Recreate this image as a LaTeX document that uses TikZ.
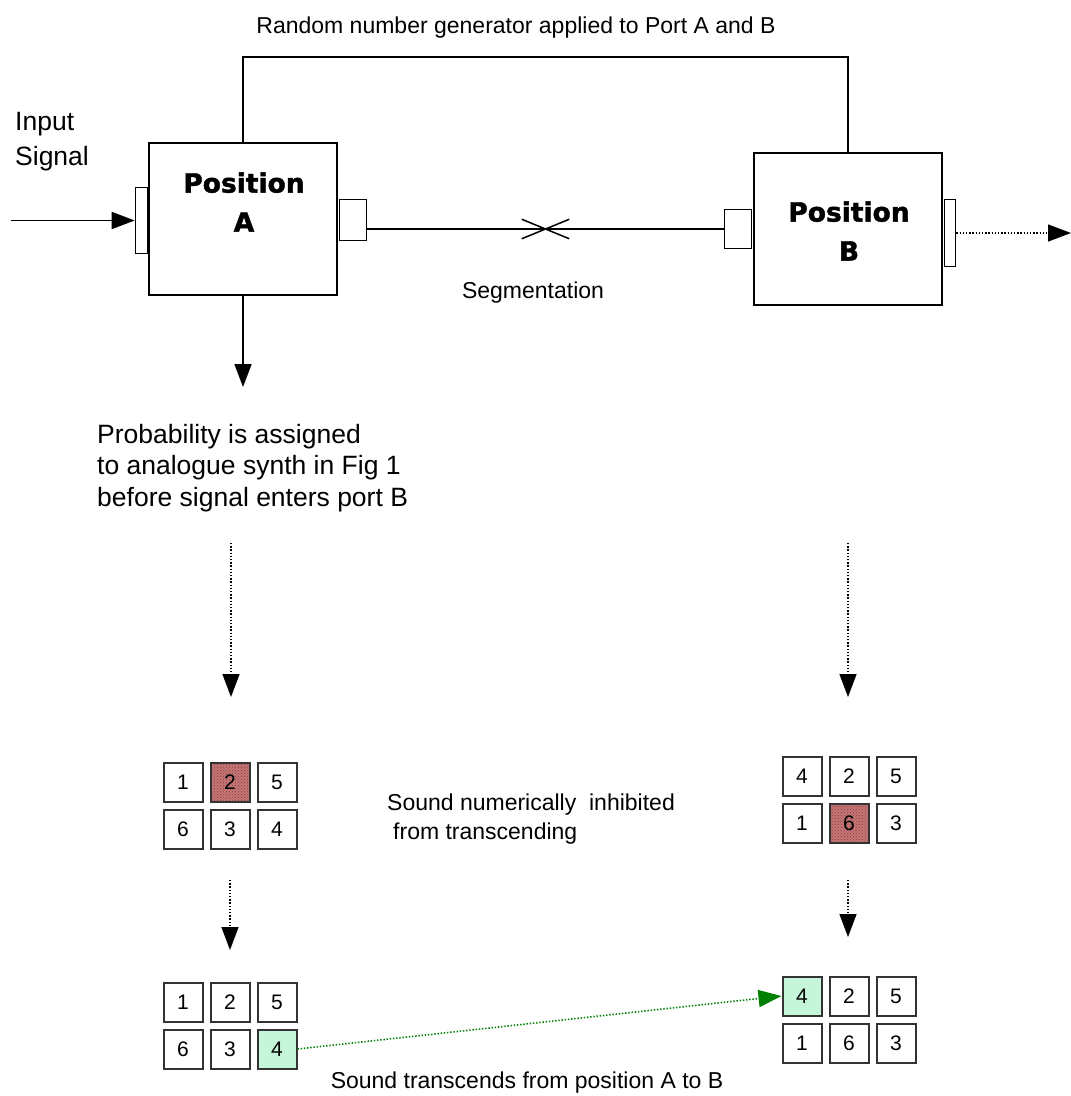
\documentclass[tikz,border=0pt]{standalone}
\usepackage{fontspec}
\setmainfont{Liberation Sans}
\newfontfamily\posfont[FakeBold=1.6]{DejaVu Sans Bold}
\usetikzlibrary{positioning,calc,arrows.meta,shapes.misc,patterns}

\definecolor{hitred}{RGB}{196,118,118}
\definecolor{hitdot}{RGB}{140,60,60}
\definecolor{gofill}{RGB}{198,246,218}
\definecolor{goline}{RGB}{0,128,0}

\begin{document}
\begin{tikzpicture}[x=1pt,y=-1pt,
    box/.style={draw, line width=2pt, minimum width=188pt, minimum height=152pt, inner sep=0pt},
    port/.style={draw, line width=1.6pt, fill=white, inner sep=0pt},
    cell/.style={draw=black!80, line width=2pt, minimum size=39pt, inner sep=0pt, font=\fontsize{21}{21}\selectfont},
    idle/.style={},
    hit/.style={preaction={fill=hitred}, pattern=crosshatch dots, pattern color=hitdot},
    go/.style={fill=gofill},
    wire/.style={line width=1.7pt},
    tip/.style={-{Triangle[length=23pt,width=17pt]}},
    dots/.style={line width=1.4pt, dash pattern=on 1.4pt off 1.8pt},
    txt/.style={font=\fontsize{23}{29}\selectfont, inner sep=0pt},
    bigtxt/.style={font=\fontsize{26.5}{31.5}\selectfont, inner sep=0pt, align=left},
    poslabel/.style={font=\posfont\fontsize{26.5}{39}\selectfont, align=center, inner sep=0pt},
]
    \useasboundingbox (0,0) rectangle (1071,1096);

    % the two positions
    \node[box] (posA) at (243,219) {};
    \node[box] (posB) at (848,229) {};
    \node[poslabel] (labA) at (244,202) {Position\\A};
    \node[poslabel] (labB) at (849,231) {Position\\B};

    \node[port, minimum width=12pt, minimum height=66pt] (inA) at (141.5,220.5) {};
    \node[port, minimum width=27pt, minimum height=41pt] (outA) at (353,220) {};
    \node[port, minimum width=27pt, minimum height=39pt] (inB) at (738,229) {};
    \node[port, minimum width=11pt, minimum height=67pt] (outB) at (950,233) {};

    % texts
    \node[txt] (rnglab) at (516,28) {Random number generator applied to Port A and B};
    \node[bigtxt, font=\fontsize{26.5}{35}\selectfont, anchor=west] (inlab) at (15,142) {Input\\Signal};
    \node[txt] (seglab) at (533,293) {Segmentation};
    \node[bigtxt, anchor=north west] (problab) at (97,424) {Probability is assigned\\to analogue synth in Fig 1\\before signal enters port B};
    \node[txt, align=left, anchor=west] (inhiblab) at (387,819) {Sound numerically~ inhibited\\\hspace*{6pt}from transcending};
    \node[txt] (translab) at (527,1083) {Sound transcends from position A to B};

    % number grids
    \foreach \lab/\c/\r/\s [count=\i] in {1/0/0/idle, 2/1/0/hit, 5/2/0/idle, 6/0/1/idle, 3/1/1/idle, 4/2/1/idle}
        \node[cell, \s] (gA\i) at ({183+47*\c},{782+47*\r}) {\lab};
    \foreach \lab/\c/\r/\s [count=\i] in {1/0/0/idle, 2/1/0/idle, 5/2/0/idle, 6/0/1/idle, 3/1/1/idle, 4/2/1/go}
        \node[cell, \s] (gB\i) at ({183+47*\c},{1002+47*\r}) {\lab};
    \foreach \lab/\c/\r/\s [count=\i] in {4/0/0/idle, 2/1/0/idle, 5/2/0/idle, 1/0/1/idle, 6/1/1/hit, 3/2/1/idle}
        \node[cell, \s] (gC\i) at ({802+47*\c},{776+47*\r}) {\lab};
    \foreach \lab/\c/\r/\s [count=\i] in {4/0/0/go, 2/1/0/idle, 5/2/0/idle, 1/0/1/idle, 6/1/1/idle, 3/2/1/idle}
        \node[cell, \s] (gD\i) at ({802+47*\c},{996+47*\r}) {\lab};

    % connectors
    \coordinate (insrc) at (11,220.5);
    \coordinate (rng) at (544,57);
    \coordinate (outend) at (1071,233);
    \coordinate (probtip) at (243,387);

    \draw[wire, tip] (insrc) -- (inA.west);
    \draw[wire] (posA.north) |- (rng) -| (posB.north);
    \draw[wire] (outA.east |- inB.west) -- node[cross out, draw, line width=1.5pt, minimum width=46pt, minimum height=18pt, inner sep=0pt] (cut) {} (inB.west);
    \draw[dots, tip] (outB.east) -- (outend);
    \draw[wire, tip] (posA.south) -- (probtip);

    \coordinate (l1s) at (231,543);
    \coordinate (l1e) at (231,697);
    \coordinate (r1s) at (848,543);
    \coordinate (r1e) at (848,697);
    \coordinate (l2s) at (230,880);
    \coordinate (l2e) at (230,950);
    \coordinate (r2s) at (848,880);
    \coordinate (r2e) at (848,937);

    \draw[dots, tip] (l1s) -- (l1e);
    \draw[dots, tip] (r1s) -- (r1e);
    \draw[dots, tip] (l2s) -- (l2e);
    \draw[dots, tip] (r2s) -- (r2e);

    \draw[dots, goline, line width=1.6pt, tip] (gB6.east) -- (gD1.west);
\end{tikzpicture}
\end{document}
